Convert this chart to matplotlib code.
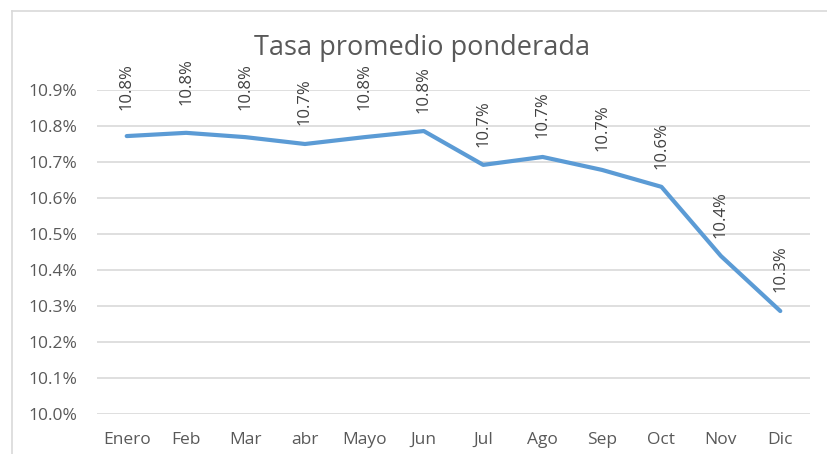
import matplotlib
matplotlib.use("Agg")
import matplotlib.pyplot as plt
from matplotlib.lines import Line2D
from matplotlib.ticker import FuncFormatter
import matplotlib.transforms as mtransforms

months = ["Enero", "Feb", "Mar", "abr", "Mayo", "Jun", "Jul", "Ago", "Sep", "Oct", "Nov", "Dic"]
values = [10.772, 10.781, 10.769, 10.750, 10.769, 10.786, 10.692, 10.714, 10.678, 10.631, 10.439, 10.286]
labels = ["10.8%", "10.8%", "10.8%", "10.7%", "10.8%", "10.8%", "10.7%", "10.7%", "10.7%", "10.6%", "10.4%", "10.3%"]
label_offsets_px = [50, 51, 51, 42, 51, 41, 41, 42, 42, 41, 41, 42]
yticks = [10.0, 10.1, 10.2, 10.3, 10.4, 10.5, 10.6, 10.7, 10.8, 10.9]

plt.rcParams['font.family'] = ['Open Sans', 'DejaVu Sans']
W, H = 827, 454
fig = plt.figure(figsize=(W / 100, H / 100), dpi=100)
fig.patch.set_facecolor("white")

ax = fig.add_axes([97 / W, 40 / H, (810 - 97) / W, (414 - 90) / H])
x = list(range(len(months)))
ax.plot(x, values, color="#5B9BD5", lw=3.0, solid_capstyle="round", solid_joinstyle="round", zorder=3)
ax.set_xlim(-0.5, len(months) - 0.5)
ax.set_ylim(10.0, 10.9)
ax.set_yticks(yticks)
ax.yaxis.set_major_formatter(FuncFormatter(lambda v, p: f"{v:.1f}%"))
ax.set_xticks(x)
ax.set_xticklabels(months)
ax.grid(axis="y", color="#D9D9D9", lw=1.2)
ax.set_axisbelow(True)
for s in ax.spines.values():
    s.set_visible(False)
ax.tick_params(axis="both", length=0, colors="#595959", labelsize=12.5)
ax.tick_params(axis="y", pad=14)
ax.tick_params(axis="x", pad=13)

for xi, v, lab, off in zip(x, values, labels, label_offsets_px):
    tr = ax.transData + mtransforms.ScaledTranslation(0, off / 100, fig.dpi_scale_trans)
    ax.text(xi, v, lab, transform=tr, rotation=90, ha="center", va="center",
            fontsize=12, color="#404040", clip_on=False)

fig.text(422 / W, 1 - 48 / H, "Tasa promedio ponderada", ha="center", va="center",
         fontsize=19.5, color="#595959")

# chart frame (left and top edges)
fig.add_artist(Line2D([12 / W, 12 / W], [0, 1 - 11 / H], transform=fig.transFigure, color="#D9D9D9", lw=1.2))
fig.add_artist(Line2D([12 / W, 1], [1 - 11 / H, 1 - 11 / H], transform=fig.transFigure, color="#D9D9D9", lw=1.2))

fig.savefig("out.png", dpi=100, facecolor="white")
